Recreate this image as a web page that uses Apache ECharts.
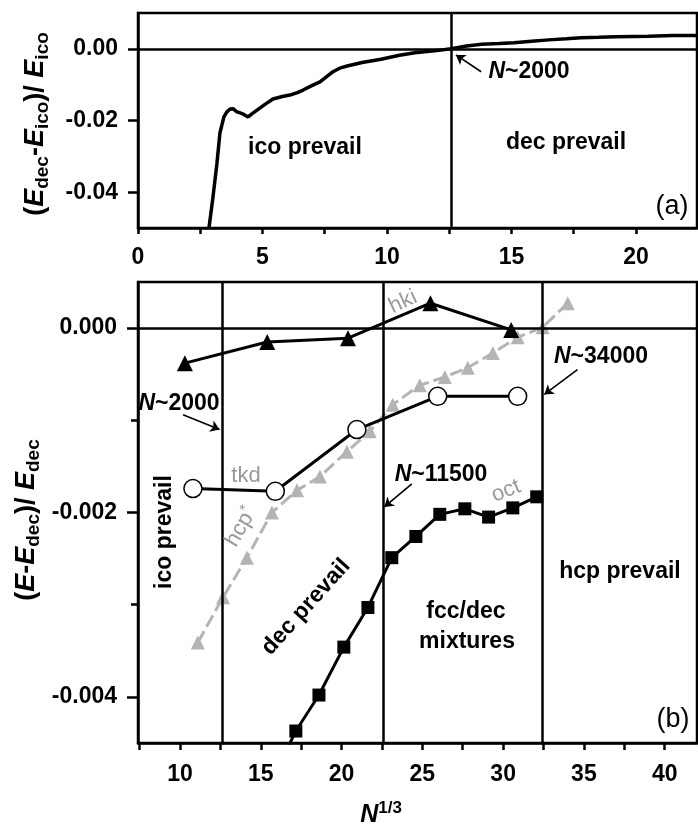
<!DOCTYPE html>
<html><head><meta charset="utf-8">
<script src="https://cdn.jsdelivr.net/npm/echarts@6/dist/echarts.min.js"></script>
<style>html,body{margin:0;padding:0;background:#fff}#c{width:698px;height:825px}</style>
</head><body><div id="c"></div>
<script>
const FONT = 'Liberation Sans';
// ---------- panel (a) ----------
const curveA = [[2.85,-0.050],[3.0,-0.042],[3.17,-0.032],[3.29,-0.0235],[3.45,-0.019],[3.57,-0.0176],[3.7,-0.0168],[3.82,-0.0167],[3.95,-0.0175],[4.1,-0.0179],[4.25,-0.0183],[4.42,-0.019],[4.6,-0.018],[4.78,-0.0171],[5.1,-0.0155],[5.42,-0.014],[5.8,-0.0133],[6.1,-0.0129],[6.4,-0.0122],[6.63,-0.0115],[7.0,-0.0102],[7.31,-0.0092],[7.6,-0.0076],[7.83,-0.0064],[8.1,-0.0054],[8.4,-0.0048],[9.0,-0.0038],[9.76,-0.0029],[10.5,-0.0018],[11.12,-0.0011],[12.0,-0.0005],[12.57,0],[13.2,0.0008],[13.8,0.0013],[14.5,0.0015],[15.1,0.0017],[15.8,0.0021],[16.5,0.0025],[17.2,0.0028],[17.8,0.0031],[18.5,0.0032],[19.2,0.0034],[20.5,0.0035],[21.5,0.0037],[22.45,0.0037]];
const boundaryA = 12.57;
const xLabelsA = [0,5,10,15,20];
const xTicksA = [0,2.5,5,7.5,10,12.5,15,17.5,20];
const yLabelsA = [0,-0.02,-0.04];
// ---------- panel (b) ----------
const hkiData = [[10.3,-0.00038],[15.4,-0.00015],[20.4,-0.00011],[25.5,0.00027],[30.5,-0.00002]];
const tkdData = [[10.8,-0.00174],[15.9,-0.00177],[20.95,-0.0011],[25.95,-0.00074],[30.9,-0.00074]];
const hcpData = [[11.1,-0.00341],[12.66,-0.00292],[14.14,-0.00249],[15.69,-0.0020],[17.24,-0.00176],[18.66,-0.00161],[20.33,-0.00134],[21.75,-0.00112],[23.17,-0.00083],[24.84,-0.00062],[26.39,-0.00053],[27.81,-0.00043],[29.36,-0.00027],[30.9,-0.0001],[32.45,0.00001],[34.0,0.00027]];
const octData = [[15.7,-0.0049],[17.17,-0.00437],[18.6,-0.00398],[20.14,-0.00346],[21.63,-0.00303],[23.11,-0.00249],[24.6,-0.00226],[26.08,-0.00202],[27.63,-0.00196],[29.1,-0.00205],[30.6,-0.00195],[32.08,-0.00183]];
const boundariesB = [12.6, 22.55, 32.4];
const xLabelsB = [10,15,20,25,30,35,40];
const xTicksB = [7.5,10,12.5,15,17.5,20,22.5,25,27.5,30,32.5,35,37.5,40];
const yLabelsB = [0,-0.002,-0.004];
const yMinorB = [-0.001,-0.003];

const chart = echarts.init(document.getElementById('c'), null, {renderer:'canvas'});
const lab = (vals, fmt, margin) => ({customValues: vals, formatter: fmt, margin: margin,
  fontFamily: FONT, fontWeight: 'bold', fontSize: 23, color: '#000'});
const axLine = {show: true, onZero: false, lineStyle: {color: '#000', width: 2.5}};
const tick = (vals, len) => ({show: true, customValues: vals, length: len, lineStyle: {color: '#000', width: 2.5}});

const rich = {
  b: {fontFamily: FONT, fontWeight: 'bold', fontSize: 27, lineHeight: 32, fill: '#000'},
  i: {fontFamily: FONT, fontWeight: 'bold', fontStyle: 'italic', fontSize: 27, lineHeight: 32, fill: '#000'},
  sub: {fontFamily: FONT, fontWeight: 'bold', fontSize: 19, lineHeight: 19, padding: [14,0,0,0], fill: '#000'},
  ni: {fontFamily: FONT, fontWeight: 'bold', fontStyle: 'italic', fontSize: 23, lineHeight: 28, fill: '#000'},
  nb: {fontFamily: FONT, fontWeight: 'bold', fontSize: 23, lineHeight: 28, fill: '#000'},
  xi: {fontFamily: FONT, fontWeight: 'bold', fontStyle: 'italic', fontSize: 25, lineHeight: 30, fill: '#000'},
  sup: {fontFamily: FONT, fontWeight: 'bold', fontSize: 17, lineHeight: 17, padding: [0,0,14,0], fill: '#000'},
  g: {fontFamily: FONT, fontSize: 22, lineHeight: 26, fill: '#999'},
  gsup: {fontFamily: FONT, fontSize: 15, lineHeight: 15, padding: [0,0,11,0], fill: '#999'}
};
function txt(x, y, text, rotDeg) {
  return {type: 'text', x: x, y: y, rotation: (rotDeg||0) * Math.PI / 180, z: 100,
    style: {text: text, rich: rich, align: 'center', verticalAlign: 'middle',
      fontFamily: FONT, fontWeight: 'bold', fontSize: 23, fill: '#000'}};
}
function plain(x, y, text, size, color, rotDeg) {
  return {type: 'text', x: x, y: y, rotation: (rotDeg||0) * Math.PI / 180, z: 100,
    style: {text: text, align: 'center', verticalAlign: 'middle', fontFamily: FONT,
      fontWeight: 'normal', fontSize: size, fill: color}};
}

const vlineStyle = {color: '#000', width: 2.5, type: 'solid'};
const arrowStyle = {color: '#000', width: 1.6, type: 'solid'};
function arrow(a, b) { return [{coord: a, symbol: 'none'}, {coord: b, symbol: 'arrow', symbolSize: 9}]; }

const option = {
  animation: false,
  backgroundColor: '#fff',
  grid: [
    {left: 138, top: 13, right: 1, height: 215, show: true, borderColor: '#000', borderWidth: 2.5, containLabel: false},
    {left: 138, top: 282, right: 1, height: 461, show: true, borderColor: '#000', borderWidth: 2.5, containLabel: false}
  ],
  xAxis: [
    {type: 'value', gridIndex: 0, min: 0, max: 22.45, axisLine: axLine, axisTick: tick(xTicksA, 6),
      axisLabel: lab(xLabelsA, v => String(v), 18), splitLine: {show: false}},
    {type: 'value', gridIndex: 1, min: 7.4, max: 42, axisLine: axLine, axisTick: tick(xTicksB, 7),
      axisLabel: lab(xLabelsB, v => String(v), 20), splitLine: {show: false}}
  ],
  yAxis: [
    {type: 'value', gridIndex: 0, min: -0.05, max: 0.01, position: 'left', axisLine: axLine, axisTick: tick(yLabelsA, 10),
      axisLabel: lab(yLabelsA, v => v.toFixed(2), 20), splitLine: {show: false}},
    {type: 'value', gridIndex: 1, min: -0.0045, max: 0.0005, position: 'left', offset: 0, axisLine: axLine, axisTick: tick(yLabelsB, 11),
      axisLabel: lab(yLabelsB, v => v.toFixed(3), 21), splitLine: {show: false}},
    {type: 'value', gridIndex: 1, min: -0.0045, max: 0.0005, position: 'left', offset: 0, axisLine: {show: false}, axisTick: tick(yMinorB, 7),
      axisLabel: {show: false}, splitLine: {show: false}}
  ],
  series: [
    {type: 'line', xAxisIndex: 0, yAxisIndex: 0, data: curveA, showSymbol: false, symbol: 'none',
      lineStyle: {color: '#000', width: 3.5}, z: 5,
      markLine: {silent: true, symbol: ['none','none'], label: {show: false}, lineStyle: vlineStyle, z: 4,
        data: [{yAxis: 0}, {xAxis: boundaryA},
          arrow([13.78,-0.0064],[12.77,-0.0017]).map(p => Object.assign({lineStyle: arrowStyle}, p))]}},
    {type: 'line', xAxisIndex: 1, yAxisIndex: 1, data: hcpData, symbol: 'triangle', symbolSize: 14, showSymbol: true,
      itemStyle: {color: '#b4b4b4'}, lineStyle: {color: '#b4b4b4', width: 3, type: [13,5]}, z: 3},
    {type: 'line', xAxisIndex: 1, yAxisIndex: 1, data: hkiData, symbol: 'triangle', symbolSize: 16, showSymbol: true,
      itemStyle: {color: '#000'}, lineStyle: {color: '#000', width: 3}, z: 5,
      markLine: {silent: true, symbol: ['none','none'], label: {show: false}, lineStyle: vlineStyle, z: 4,
        data: [{yAxis: 0}].concat(boundariesB.map(v => ({xAxis: v})))}},
    {type: 'line', xAxisIndex: 1, yAxisIndex: 1, data: tkdData, symbol: 'circle', symbolSize: 18, showSymbol: true,
      itemStyle: {color: '#fff', borderColor: '#000', borderWidth: 1.5}, lineStyle: {color: '#000', width: 3}, z: 6},
    {type: 'line', xAxisIndex: 1, yAxisIndex: 1, data: octData, symbol: 'rect', symbolSize: 13, showSymbol: true,
      itemStyle: {color: '#000'}, lineStyle: {color: '#000', width: 3}, z: 6,
      markLine: {silent: true, symbol: ['none','none'], label: {show: false}, lineStyle: arrowStyle, z: 4,
        data: [arrow([10.19,-0.00094],[12.45,-0.00110]), arrow([24.35,-0.00169],[22.65,-0.00194]), arrow([34.6,-0.00045],[32.55,-0.00072])]}}
  ],
  graphic: [
    txt(36, 124, '{b|(}{i|E}{sub|dec}{b|-}{i|E}{sub|ico}{b|)/ }{i|E}{sub|ico}', 90),
    txt(27, 520, '{b|(}{i|E}{b|-}{i|E}{sub|dec}{b|)/ }{i|E}{sub|dec}', 90),
    txt(381, 815, '{xi|N}{sup|1/3}', 0),
    txt(305, 148, 'ico prevail'),
    txt(566, 143, 'dec prevail'),
    txt(529, 72, '{ni|N}{nb|~2000}'),
    plain(672, 207, '(a)', 27, '#000'),
    txt(179, 404, '{ni|N}{nb|~2000}'),
    txt(441, 475, '{ni|N}{nb|~11500}'),
    txt(601, 357, '{ni|N}{nb|~34000}'),
    txt(165, 532, 'ico prevail', 90),
    txt(306, 607, 'dec prevail', 48),
    txt(466, 612, 'fcc/dec'),
    txt(467, 642, 'mixtures'),
    txt(620, 572, 'hcp prevail'),
    plain(673, 720, '(b)', 27, '#000'),
    plain(403, 302, 'hki', 22, '#999', 25),
    plain(246, 476, 'tkd', 22, '#999', 0),
    plain(506, 491, 'oct', 22, '#999', 22),
    txt(241, 527, '{g|hcp}{gsup|*}', 60)
  ]
};
chart.setOption(option);
</script></body></html>
